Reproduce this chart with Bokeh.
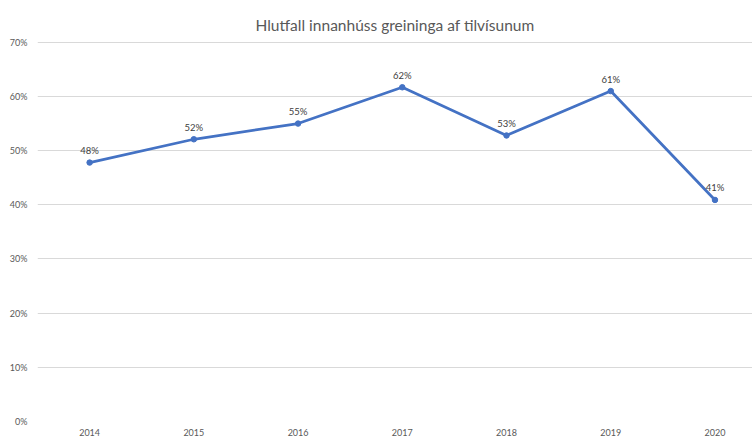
from bokeh.plotting import figure
from bokeh.models import ColumnDataSource, FixedTicker, NumeralTickFormatter, Range1d, LabelSet
from bokeh.core.properties import value
from bokeh.embed import file_html
from bokeh.resources import INLINE

title_text = "Hlutfall innanhúss greininga af tilvísunum"
years = ["2014", "2015", "2016", "2017", "2018", "2019", "2020"]
share = [0.478, 0.521, 0.550, 0.617, 0.528, 0.610, 0.409]
y_ticks = [0.0, 0.1, 0.2, 0.3, 0.4, 0.5, 0.6, 0.7]

xs = list(range(len(years)))
labels = [f"{round(v * 100):d}%" for v in share]
src = ColumnDataSource(dict(x=xs, y=share, lab=labels))

FONT = "Lato"
p = figure(width=752, height=441, output_backend="svg", toolbar_location=None,
           x_range=Range1d(-0.5, 6.36), y_range=Range1d(0, 0.7015),
           min_border_left=37, min_border_right=0, min_border_bottom=20, min_border_top=41)
p.title.text = title_text
p.title.align = "center"
p.title.vertical_align = "middle"
p.title.text_font = FONT
p.title.text_font_size = "15.5px"
p.title.text_font_style = "normal"
p.title.text_color = "#595959"
p.title.offset = 0
p.title.standoff = 14

p.outline_line_color = None
p.background_fill_color = "white"
p.border_fill_color = "white"

p.xaxis.ticker = FixedTicker(ticks=xs)
p.xaxis.major_label_overrides = {i: y for i, y in enumerate(years)}
p.yaxis.ticker = FixedTicker(ticks=y_ticks)
p.yaxis.formatter = NumeralTickFormatter(format="0%")
for ax in (p.xaxis, p.yaxis):
    ax.axis_line_color = None
    ax.major_tick_line_color = None
    ax.minor_tick_line_color = None
    ax.major_tick_out = 0
    ax.major_tick_in = 0
    ax.minor_tick_out = 0
    ax.minor_tick_in = 0
    ax.major_label_text_font = FONT
    ax.major_label_text_font_size = "9px"
    ax.major_label_text_color = "#595959"
p.yaxis.major_label_standoff = 10
p.xaxis.major_label_standoff = 7

p.xgrid.grid_line_color = None
p.ygrid.grid_line_color = "#d9d9d9"
p.ygrid.grid_line_width = 1

p.line("x", "y", source=src, line_color="#4472C4", line_width=2.75)
p.scatter("x", "y", source=src, size=5.5, fill_color="#4472C4", line_color="#4472C4")
p.add_layout(LabelSet(x="x", y="y", text="lab", source=src, text_align="center",
                      text_baseline="middle", y_offset=12, text_font=value(FONT),
                      text_font_size=value("9.5px"), text_color="#404040"))

open("out.html", "w").write(file_html(p, INLINE))
